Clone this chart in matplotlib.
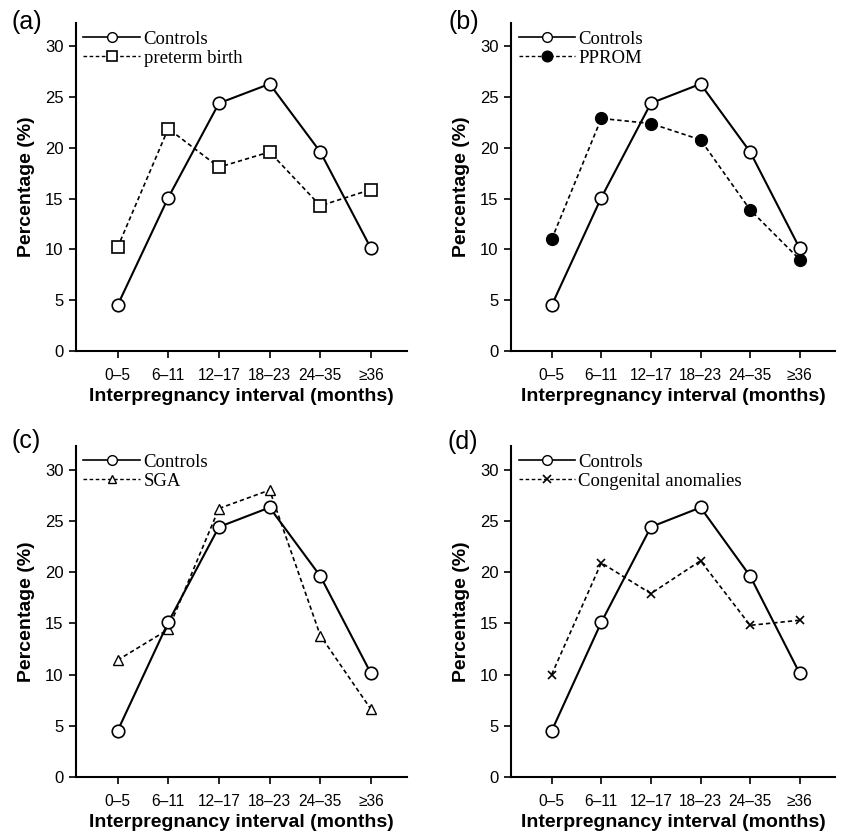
import matplotlib
matplotlib.use("Agg")
import matplotlib.pyplot as plt
from matplotlib.lines import Line2D

categories = ["0\u20135", "6\u201311", "12\u201317", "18\u201323", "24\u201335", "\u226536"]
controls = [4.5, 15.1, 24.4, 26.3, 19.6, 10.1]
preterm = [10.2, 21.9, 18.1, 19.6, 14.3, 15.9]
pprom = [11.0, 22.9, 22.4, 20.8, 13.9, 9.0]
sga = [11.4, 14.4, 26.2, 28.0, 13.8, 6.6]
congenital = [10.0, 20.9, 17.9, 21.1, 14.8, 15.3]

panels = [
    ("(a)", "preterm birth", preterm, dict(marker="s", ms=8, mfc="white", mec="black", mew=1.2)),
    ("(b)", "PPROM", pprom, dict(marker="o", ms=8.5, mfc="black", mec="black", mew=1.0)),
    ("(c)", "SGA", sga, dict(marker="^", ms=6.5, mfc="white", mec="black", mew=1.0)),
    ("(d)", "Congenital anomalies", congenital, dict(marker="x", ms=6, mec="black", mew=1.2)),
]

W, H = 845, 831
fig = plt.figure(figsize=(W / 100, H / 100), dpi=100)

# axes boxes in pixels: left, right, bottom(y of value 0), top
boxes = [
    (76, 407, 351, 23),
    (511, 835, 351, 23),
    (76, 407, 777, 446),
    (511, 835, 777, 446),
]
label_pos = [(12, 22), (449, 22), (12, 441), (448, 442)]

sans = ["Liberation Sans", "DejaVu Sans"]
serif = ["Liberation Serif", "DejaVu Serif"]
x = list(range(len(categories)))
dash = (0, (2.6, 1.8))

for (lab, name, vals, mk), (l, r, b, t), (lx, ly) in zip(panels, boxes, label_pos):
    ax = fig.add_axes([l / W, 1 - b / H, (r - l) / W, (b - t) / H])
    ax.plot(x, vals, color="black", lw=1.2, linestyle=dash, zorder=2, **mk)
    ax.plot(x, controls, color="black", lw=1.5, marker="o", ms=9, mfc="white",
            mec="black", mew=1.2, zorder=3)
    ax.set_xlim(-0.82, 5.71)
    ax.set_ylim(0, 32.3)
    ax.set_yticks([0, 5, 10, 15, 20, 25, 30])
    ax.set_xticks(x)
    ax.set_xticklabels(categories, family=sans, fontsize=11.2)
    for tl in ax.get_yticklabels():
        tl.set_family(sans)
        tl.set_fontsize(12)
    for s in ("top", "right"):
        ax.spines[s].set_visible(False)
    for s in ("left", "bottom"):
        ax.spines[s].set_linewidth(1.5)
    ax.tick_params(direction="out", length=5, width=1.2, pad=4)
    ax.tick_params(axis="x", pad=7)
    ax.set_xlabel("Interpregnancy interval (months)", family=sans, fontsize=14,
                  fontweight="bold", labelpad=4)
    ax.set_ylabel("Percentage (%)", family=sans, fontsize=14, fontweight="bold",
                  labelpad=7)
    handles = [
        Line2D([], [], color="black", lw=1.2, marker="o", ms=7, mfc="white", mec="black"),
        Line2D([], [], color="black", lw=1.0, linestyle=dash,
               **{k: (v if k != "ms" else v * 0.9) for k, v in mk.items()}),
    ]
    ax.legend(handles, ["Controls", name], loc="upper left", bbox_to_anchor=(0.0, 1.0),
              frameon=False, prop={"family": serif, "size": 13.5}, handlelength=3.0,
              handletextpad=0.2, labelspacing=0.12, borderaxespad=0.25, borderpad=0.15)
    fig.text(lx / W, 1 - ly / H, lab, family=sans, fontsize=18, va="center", ha="left")

fig.savefig("out.png", dpi=100)
